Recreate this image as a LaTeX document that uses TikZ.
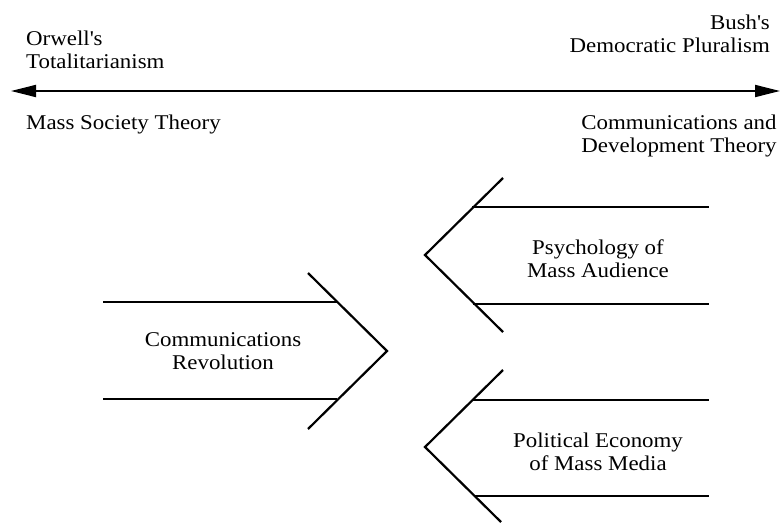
\documentclass[tikz,border=0pt]{standalone}
\usepackage{fontspec}
\setmainfont{Liberation Serif}[FakeStretch=1.09]
\usetikzlibrary{arrows.meta}

\begin{document}
\begin{tikzpicture}[x=1pt,y=-1pt]
\tikzstyle{label1}=[inner sep=0pt, font=\fontsize{21}{23}\selectfont]
\tikzstyle{bar}=[line width=1.8pt]
\tikzstyle{chev}=[line width=2.2pt, line join=miter]
\tikzstyle{axis}=[line width=1.8pt, {Triangle[length=25pt,width=12pt]}-{Triangle[length=25pt,width=12pt]}]

\useasboundingbox (0,0) rectangle (781,522);

% the scale
\coordinate (w1) at (11,91);
\coordinate (w2) at (780,91);
\draw [axis] (w1) -- (w2);

\node (t1) at (26,31) [label1, anchor=north west, align=left] {Orwell\textquotesingle s\\Totalitarianism};
\node (t2) at (770,15) [label1, anchor=north east, align=right] {Bush\textquotesingle s\\Democratic Pluralism};
\node (t3) at (26,115) [label1, anchor=north west] {Mass Society Theory};
\node (t4) at (679,115) [label1, anchor=north, align=center] {Communications and\\Development Theory};

% left chevron
\coordinate (a1) at (103,302);
\coordinate (a2) at (337,302);
\coordinate (a3) at (103,399);
\coordinate (a4) at (337,399);
\coordinate (a5) at (308,273);
\coordinate (a6) at (387,351);
\coordinate (a7) at (308,429);
\draw [bar] (a1) -- (a2);
\draw [bar] (a3) -- (a4);
\draw [chev] (a5) -- (a6) -- (a7);
\node (n1) at (223,332) [label1, anchor=north, align=center] {Communications\\Revolution};

% upper right chevron
\coordinate (b1) at (472,207);
\coordinate (b2) at (709,207);
\coordinate (b3) at (473,304);
\coordinate (b4) at (709,304);
\coordinate (b5) at (503,178);
\coordinate (b6) at (425,255);
\coordinate (b7) at (503,332);
\draw [bar] (b1) -- (b2);
\draw [bar] (b3) -- (b4);
\draw [chev] (b5) -- (b6) -- (b7);
\node (n2) at (598,240) [label1, anchor=north, align=center] {Psychology of\\Mass Audience};

% lower right chevron
\coordinate (c1) at (472,400);
\coordinate (c2) at (709,400);
\coordinate (c3) at (474,496);
\coordinate (c4) at (709,496);
\coordinate (c5) at (503,370);
\coordinate (c6) at (425,447);
\coordinate (c7) at (501,522);
\draw [bar] (c1) -- (c2);
\draw [bar] (c3) -- (c4);
\draw [chev] (c5) -- (c6) -- (c7);
\node (n3) at (598,433) [label1, anchor=north, align=center] {Political Economy\\of Mass Media};
\end{tikzpicture}
\end{document}
